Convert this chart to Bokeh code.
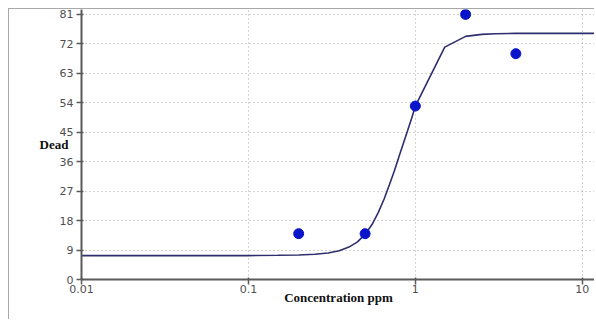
from bokeh.plotting import figure
from bokeh.models import FixedTicker, Range1d
from bokeh.embed import file_html
from bokeh.resources import INLINE

# Observed points
conc = [0.2, 0.5, 1.0, 2.0, 4.0]
dead = [14, 14, 53, 81, 69]

# Fitted curve
curve_x = [0.01, 0.1, 0.15, 0.2, 0.25, 0.3, 0.35, 0.4, 0.45, 0.5, 0.55, 0.6, 0.65, 0.7,
           0.75, 0.8, 0.85, 0.9, 0.95, 1.0, 1.5, 2.0, 2.5, 3.0, 4.0, 6.0, 12.0]
curve_y = [7.3, 7.3, 7.4, 7.5, 7.7, 8.1, 8.8, 9.9, 11.5, 13.8, 16.8, 20.5, 24.6, 29.0,
           33.3, 37.7, 41.8, 45.6, 49.3, 53.0, 71.0, 74.3, 74.9, 75.1, 75.2, 75.2, 75.2]

x_ticks = [0.01, 0.1, 1, 10]
y_ticks = [0, 9, 18, 27, 36, 45, 54, 63, 72, 81]

p = figure(width=586, height=311, x_axis_type="log",
           x_range=Range1d(0.01, 12), y_range=Range1d(0, 82.5),
           output_backend="svg", toolbar_location=None,
           min_border_left=72, min_border_right=0, min_border_top=0, min_border_bottom=41,
           styles={"margin-left": "8px", "margin-top": "8px",
                   "border-left": "1px solid #a8a8a8", "border-top": "1px solid #a8a8a8"})
p.outline_line_color = None
p.background_fill_color = "white"
p.border_fill_color = "white"

p.xaxis.ticker = FixedTicker(ticks=x_ticks)
p.yaxis.ticker = FixedTicker(ticks=y_ticks)
p.xaxis.major_label_overrides = {0.01: "0.01", 0.1: "0.1", 1: "1", 10: "10"}

for ax in (p.xaxis, p.yaxis):
    ax.axis_line_color = "#5a5a5a"
    ax.axis_line_width = 2
    ax.major_tick_line_color = "#5a5a5a"
    ax.major_tick_line_width = 1.5
    ax.major_tick_in = 2
    ax.major_tick_out = 5
    ax.minor_tick_line_color = None
    ax.major_label_text_font = "DejaVu Sans"
    ax.major_label_text_font_size = "11px"
    ax.major_label_text_color = "#505050"
    ax.axis_label_text_font = "Liberation Serif"
    ax.axis_label_text_font_style = "bold"
    ax.axis_label_text_font_size = "13px"
    ax.axis_label_text_color = "#111111"
p.xaxis.major_label_standoff = 0
p.yaxis.major_label_standoff = 3

p.yaxis.axis_label = "Dead"
p.yaxis.axis_label_orientation = "horizontal"
p.yaxis.axis_label_standoff = -12
p.xaxis.axis_label = "Concentration ppm"
p.xaxis.axis_label_standoff = -6

p.grid.grid_line_color = "#a8a8a8"
p.grid.grid_line_dash = "1 3"
p.grid.grid_line_width = 1
p.xgrid.ticker = FixedTicker(ticks=x_ticks)
p.ygrid.ticker = FixedTicker(ticks=y_ticks)

p.line(curve_x, curve_y, line_color="#2e2e6e", line_width=1.6)
p.scatter(conc, dead, size=10, fill_color="#0a14c8", line_color="#0a14c8", marker="circle")

open("out.html", "w").write(file_html(p, INLINE))
